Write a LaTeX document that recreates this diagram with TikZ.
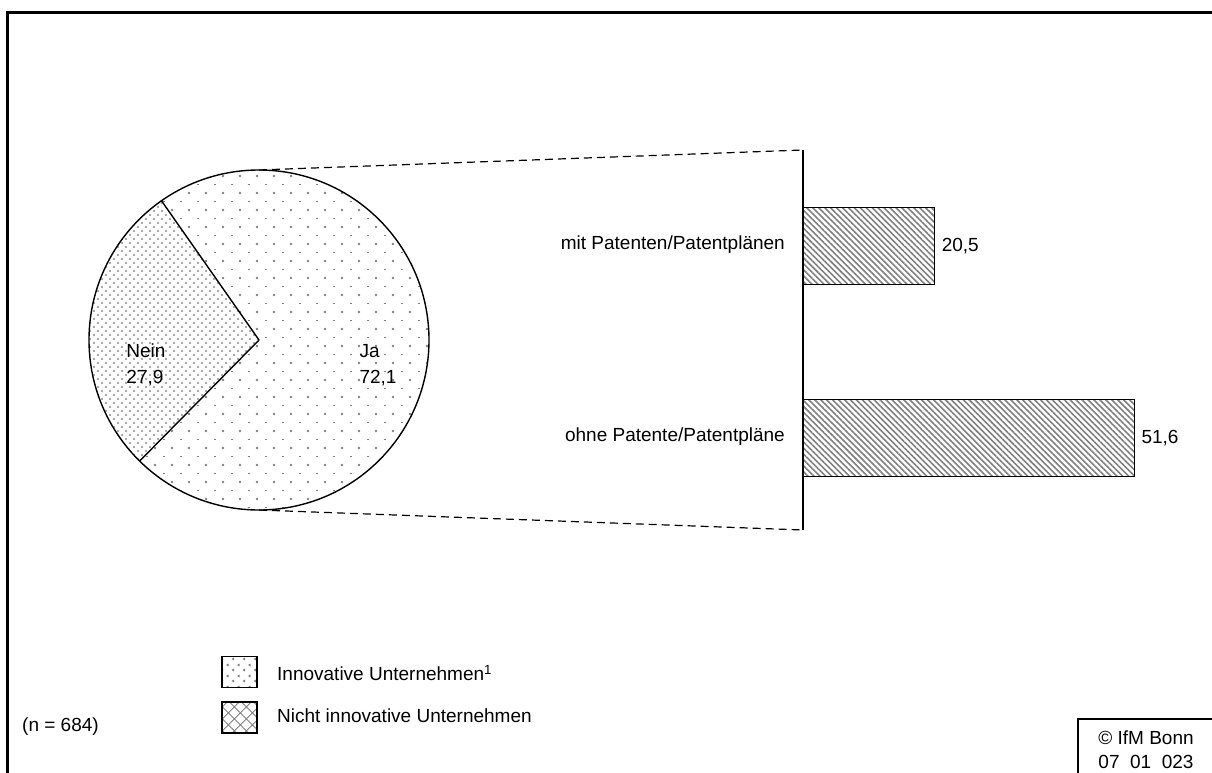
\documentclass[tikz,border=0pt]{standalone}
\usepackage{fontspec}
\setmainfont{Liberation Sans}
\usetikzlibrary{patterns,patterns.meta}

\pgfdeclarepatternformonly{sparsedots}{\pgfpoint{-1pt}{-1pt}}{\pgfpoint{18pt}{18pt}}{\pgfpoint{17pt}{17pt}}{%
  \pgfpathcircle{\pgfpoint{2pt}{2pt}}{1.35pt}%
  \pgfusepath{fill}%
  \pgfsetlinewidth{1pt}%
  \pgfpathmoveto{\pgfpoint{9.5pt}{10.5pt}}%
  \pgfpathlineto{\pgfpoint{12pt}{10.5pt}}%
  \pgfusepath{stroke}%
}
\pgfdeclarepatternformonly{densedots}{\pgfpoint{-1pt}{-1pt}}{\pgfpoint{9pt}{9pt}}{\pgfpoint{8pt}{8pt}}{%
  \pgfpathcircle{\pgfpoint{2pt}{2pt}}{1.15pt}%
  \pgfpathcircle{\pgfpoint{6pt}{6pt}}{1.15pt}%
  \pgfusepath{fill}%
}
\pgfdeclarepatternformonly{legmarks}{\pgfpoint{-1pt}{-1pt}}{\pgfpoint{12pt}{12pt}}{\pgfpoint{11pt}{11pt}}{%
  \pgfsetlinewidth{0.9pt}%
  \pgfpathmoveto{\pgfpoint{3pt}{3pt}}\pgfpathlineto{\pgfpoint{1.5pt}{4pt}}\pgfpathlineto{\pgfpoint{3pt}{5pt}}%
  \pgfpathmoveto{\pgfpoint{8.5pt}{8pt}}\pgfpathlineto{\pgfpoint{7pt}{9pt}}\pgfpathlineto{\pgfpoint{8.5pt}{10pt}}%
  \pgfusepath{stroke}%
}

\begin{document}
\begin{tikzpicture}[x=1pt,y=-1pt,
  font=\fontsize{19}{26}\selectfont,
  lbl/.style={inner sep=0pt},
  barbox/.style={draw,line width=1.3pt,inner sep=0pt,anchor=north west,
    pattern={Lines[angle=-45,distance=4.2pt,line width=1.6pt]},pattern color=black!50},
  legbox/.style={draw,line width=1.1pt,inner sep=0pt,minimum width=35pt,minimum height=31pt},
  guide/.style={dashed,dash pattern=on 8pt off 5pt,line width=1.2pt},
  solidline/.style={line width=1.4pt}]
\useasboundingbox (0,0) rectangle (1212,773);
\clip (0,0) rectangle (1212,773);

% outer frame
\draw[line width=3pt] (7,13) rectangle (1240,800);

% pie
\coordinate (c) at (259,340);
\fill[pattern=sparsedots,pattern color=black!50] (c) circle[radius=170];
\fill[white] (c) -- ++(-125:170) arc[start angle=-125,end angle=-225.4,radius=170] -- cycle;
\fill[pattern=densedots,pattern color=black!45] (c) -- ++(-125:170) arc[start angle=-125,end angle=-225.4,radius=170] -- cycle;
\draw[solidline] (c) circle[radius=170];
\draw[solidline] (c) -- ++(-125:170) coordinate (w1);
\draw[solidline] (c) -- ++(-225.4:170) coordinate (w2);

\node[lbl,align=left] (nein) at (146,365) {Nein\\27,9};
\node[lbl,align=left] (ja) at (378,365) {Ja\\72,1};

% zoom guides
\coordinate (ptop) at (259,170);
\coordinate (pbot) at (259,510);
\coordinate (vtop) at (803,150);
\coordinate (vbot) at (803,530);
\draw[guide] (ptop) -- (vtop);
\draw[guide] (pbot) -- (vbot);
\draw[solidline] (vtop) -- (vbot);

% bars
\node[barbox,minimum width=131pt,minimum height=77pt] (b1) at (803,207) {};
\node[barbox,minimum width=331pt,minimum height=77pt] (b2) at (803,399) {};
\node[lbl,anchor=west] (v1) at ([xshift=6pt]b1.east) {20,5};
\node[lbl,anchor=west] (v2) at ([xshift=6pt]b2.east) {51,6};
\node[lbl,anchor=east] (mit) at (785,245) {mit Patenten/Patentplänen};
\node[lbl,anchor=east] (ohne) at (785,437) {ohne Patente/Patentpläne};

% legend
\node[legbox,pattern=legmarks,pattern color=black!55] (l1) at (239.5,672) {};
\node[legbox,pattern={Hatch[angle=45,distance=8.5pt,line width=0.9pt]},pattern color=black!50] (l2) at (239.5,717.5) {};
\node[lbl,anchor=west] (l1t) at (277,673) {Innovative Unternehmen\textsuperscript{1}};
\node[lbl,anchor=west] (l2t) at (277,716) {Nicht innovative Unternehmen};

\node[lbl,anchor=west] (n) at (22,727) {(n = 684)};

% copyright box
\draw[line width=1.5pt] (1078,719) rectangle (1240,800);
\node[lbl] (cp1) at (1146,738) {© IfM Bonn};
\node[lbl] (cp2) at (1146,762) {07\ \ 01\ \ 023};
\end{tikzpicture}
\end{document}
